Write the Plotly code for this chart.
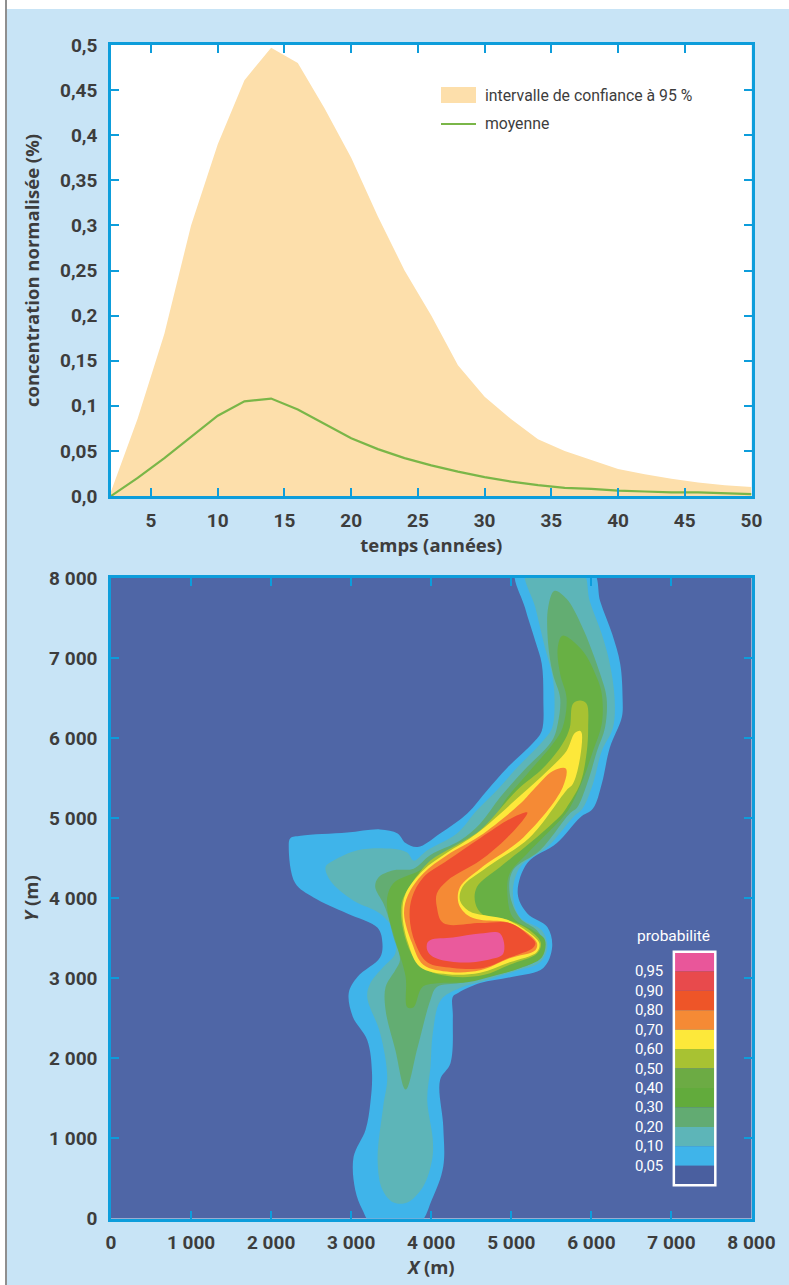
import plotly.graph_objects as go

# ---------- top chart data ----------
years = [2,4,6,8,10,12,14,16,18,20,22,24,26,28,30,32,34,36,38,40,42,44,46,48,50]
ci_upper = [.005,.086,.18,.30,.39,.461,.497,.48,.43,.375,.31,.25,.2,.145,.11,.085,.063,.05,.04,.03,.024,.019,.015,.012,.01]
mean_conc = [0,.02,.042,.066,.089,.105,.108,.096,.08,.064,.052,.042,.034,.027,.021,.016,.012,.009,.008,.006,.005,.004,.004,.003,.002]
top_xticks = [5,10,15,20,25,30,35,40,45,50]
top_yticks = [0,.05,.1,.15,.2,.25,.3,.35,.4,.45,.5]
top_ylabels = ["0,0","0,05","0,1","0,15","0,2","0,25","0,3","0,35","0,4","0,45","0,5"]

# ---------- probability map: outline of each level ----------
p05 = [(5060,8090),(5170,7630),(5300,7210),(5380,6930),(5400,6500),(5380,6090),(5270,5940),(4950,5630),(4700,5350),(4450,5060),(4110,4810),(3830,4640),(3680,4690),(3580,4810),(3360,4860),(2950,4820),(2370,4780),(2240,4750),(2220,4640),(2300,4190),(2530,4010),(2950,3810),(3330,3630),(3390,3440),(3360,3260),(3080,3020),(2970,2820),(3020,2520),(3200,2230),(3260,1820),(3240,1450),(3180,1110),(3030,770),(3050,360),(3140,110),(3260,-70),(3840,-70),(4010,240),(4150,650),(4150,1150),(4110,1730),(4240,1940),(4270,2520),(4270,2770),(4340,2820),(4610,2940),(5020,3020),(5400,3130),(5510,3390),(5450,3640),(5200,3810),(5080,4060),(5200,4440),(5570,4690),(5860,5010),(6020,5120),(6130,5430),(6230,5880),(6380,6260),(6390,6500),(6360,6930),(6260,7300),(6110,7710),(6010,8090)]
p10 = [(5180,8090),(5300,7630),(5420,7130),(5510,6800),(5540,6470),(5510,6130),(5400,5970),(5070,5630),(4820,5350),(4570,5100),(4320,4810),(3950,4600),(3780,4470),(3700,4570),(3490,4620),(3080,4600),(2780,4470),(2680,4390),(2740,4220),(3030,3970),(3360,3810),(3530,3600),(3550,3310),(3400,3140),(3240,2940),(3200,2770),(3360,2320),(3450,1770),(3400,1400),(3330,730),(3390,360),(3530,200),(3700,200),(3900,400),(4010,730),(4020,980),(3950,1480),(3990,1890),(4020,2320),(4120,2730),(4360,2880),(4700,2980),(5020,3080),(5360,3200),(5450,3390),(5380,3600),(5110,3760),(5020,4060),(5110,4390),(5450,4640),(5770,5010),(5890,5120),(6020,5430),(6130,5840),(6270,6130),(6290,6500),(6230,6930),(6130,7300),(5980,7710),(5880,8090)]
p20 = [(5540,7840),(5460,7630),(5460,7180),(5520,6800),(5610,6500),(5580,6180),(5510,5970),(5150,5590),(4860,5260),(4610,4930),(4360,4720),(3990,4540),(3780,4370),(3530,4350),(3340,4260),(3300,4140),(3400,3940),(3450,3810),(3530,3510),(3610,3230),(3550,3100),(3430,2890),(3430,2600),(3550,2110),(3680,1610),(3830,2140),(3990,2730),(4070,2890),(4360,2940),(4700,3020),(5020,3100),(5320,3230),(5400,3440),(5320,3600),(5110,3750),(4980,4060),(5020,4350),(5360,4600),(5730,5060),(5820,5130),(5960,5470),(6070,5840),(6170,6130),(6190,6500),(6110,6800),(5890,7380),(5690,7740)]
p30 = [(5640,7280),(5580,7130),(5610,6800),(5690,6500),(5640,6130),(5520,5930),(5230,5590),(4950,5260),(4730,4930),(4400,4690),(4070,4500),(3860,4350),(3530,4190),(3450,4010),(3460,3810),(3550,3480),(3680,3020),(3700,2640),(3780,2640),(3890,2890),(4110,2940),(4450,2950),(4820,3040),(5110,3130),(5380,3260),(5420,3480),(5270,3600),(5020,3760),(4950,4060),(4980,4310),(5200,4560),(5640,5010),(5730,5130),(5890,5470),(6020,5840),(6130,6180),(6130,6550),(6070,6750),(5890,7090)]
p50 = [(5860,6470),(5770,6430),(5730,6130),(5640,5930),(5400,5630),(5070,5350),(4610,4850),(4270,4640),(3990,4470),(3760,4190),(3630,3940),(3650,3600),(3780,3260),(3950,3100),(4270,3020),(4650,3040),(4980,3170),(5320,3310),(5370,3440),(5230,3600),(4950,3730),(4650,3790),(4550,3940),(4570,4140),(4860,4390),(5270,4720),(5640,5060),(5690,5130),(5860,5430),(5940,5810),(5960,6130),(5940,6430)]
p60 = [(5860,6090),(5790,6060),(5690,5840),(5450,5590),(5110,5280),(4570,4810),(4200,4570),(3900,4350),(3680,4060),(3640,3810),(3710,3440),(3860,3140),(4200,3050),(4610,3070),(4980,3200),(5320,3330),(5350,3440),(5210,3580),(4950,3730),(4700,3780),(4490,3830),(4360,3970),(4390,4140),(4700,4390),(5230,4760),(5690,5350),(5770,5430),(5860,5760),(5880,6060)]
p70 = [(5680,5620),(5520,5590),(5270,5350),(5110,5180),(4610,4780),(4200,4540),(3900,4310),(3710,4040),(3660,3810),(3760,3440),(3900,3170),(4240,3080),(4610,3100),(4980,3250),(5300,3350),(5320,3440),(5210,3560),(4950,3700),(4610,3730),(4450,3790),(4340,3940),(4360,4140),(4610,4370),(5150,4760),(5640,5380)]
p80 = [(5200,5070),(5020,5010),(4610,4750),(4200,4470),(3900,4260),(3760,4010),(3730,3760),(3800,3440),(3950,3200),(4270,3130),(4650,3130),(4980,3260),(5270,3380),(5300,3440),(5210,3540),(4980,3690),(4610,3690),(4150,3690),(4070,3890),(4070,4060),(4200,4220),(4610,4470),(4950,4760),(5170,5010)]
p95 = [(3950,3440),(3990,3480),(4270,3510),(4610,3560),(4860,3560),(4900,3310),(4700,3230),(4320,3200),(4020,3270),(3950,3350)]

map_levels = [p05,p10,p20,p30,p50,p60,p70,p80,p95]
level_names = ["0,05","0,10","0,20","0,30","0,50","0,60","0,70","0,80","0,95"]
level_colors = ["#3fb4ea","#5db5b8","#63ad72","#68b044","#a8c232","#fde83a","#f58a35","#ee4f30","#ea5a9c"]

map_ticks = [0,1000,2000,3000,4000,5000,6000,7000,8000]
map_ticklabels = ["0","1 000","2 000","3 000","4 000","5 000","6 000","7 000","8 000"]

key_labels = ["0,95","0,90","0,80","0,70","0,60","0,50","0,40","0,30","0,20","0,10","0,05"]
key_colors = ["#e9569a","#e84a4c","#ee5528","#f58a35","#fde83a","#a8c232","#6cab44","#62ab3c","#62ab72","#5db5b8","#3fb4ea","#4a5f9f"]

BG = "#c8e4f6"
AXIS = "#0d9ddb"
TXT = "#3d3d3d"
FONT = "Roboto"
TITLE_FONT = "Open Sans"
W, H = 789, 1285

fig = go.Figure()
fig.add_trace(go.Scatter(x=years, y=ci_upper, mode="lines", fill="tozeroy", fillcolor="#fddfab",
                         line=dict(width=0, color="#fddfab"), name="intervalle de confiance à 95 %",
                         xaxis="x", yaxis="y"))
fig.add_trace(go.Scatter(x=years, y=mean_conc, mode="lines", line=dict(color="#7ab648", width=2.2),
                         name="moyenne", xaxis="x", yaxis="y"))
for pts, nm, col in zip(map_levels, level_names, level_colors):
    closed = pts + pts[:1]
    fig.add_trace(go.Scatter(x=[p[0] for p in closed], y=[p[1] for p in closed], mode="lines",
                             line=dict(width=0, color=col, shape="spline", smoothing=1.0),
                             fill="toself", fillcolor=col, name=nm, xaxis="x2", yaxis="y2",
                             hoverinfo="skip"))

axis_common = dict(showline=True, linecolor=AXIS, linewidth=2.5, mirror="allticks", ticks="inside",
                   tickcolor=AXIS, tickwidth=2, ticklen=8, showgrid=False, zeroline=False,
                   automargin=False, ticklabelstandoff=5,
                   tickfont=dict(family=FONT, size=19, color=TXT, weight=700))
title_font = dict(family=TITLE_FONT, size=18.5, color=TXT, weight=700)

fig.update_layout(
    width=W, height=H, autosize=False, showlegend=False,
    margin=dict(l=0, r=0, t=0, b=0, pad=0),
    paper_bgcolor=BG, plot_bgcolor="white",
    xaxis=dict(axis_common, domain=[111/W, 751.5/W], range=[2, 50], tickvals=top_xticks,
               ticktext=[str(v) for v in top_xticks], anchor="y",
               title=dict(text="temps (années)", font=title_font, standoff=5)),
    yaxis=dict(axis_common, domain=[1-496/H, 1-45/H], range=[0, .5], tickvals=top_yticks,
               ticktext=top_ylabels, anchor="x", ticklabelstandoff=7,
               title=dict(text="concentration normalisée (%)", font=title_font, standoff=16)),
    xaxis2=dict(axis_common, domain=[111/W, 751.5/W], range=[0, 8000], tickvals=map_ticks,
                ticktext=map_ticklabels, anchor="y2",
                title=dict(text="<i>X</i> (m)", font=title_font, standoff=9)),
    yaxis2=dict(axis_common, domain=[1-1218.5/H, 1-578/H], range=[0, 8000], tickvals=map_ticks,
                ticktext=map_ticklabels, anchor="x2", ticklabelstandoff=7,
                title=dict(text="<i>Y</i> (m)", font=title_font, standoff=6)),
)

shapes = [
    dict(type="rect", xref="paper", yref="paper", x0=0, x1=1, y0=1-9/H, y1=1, fillcolor="white", line_width=0, layer="below"),
    dict(type="rect", xref="paper", yref="paper", x0=0, x1=5/W, y0=0, y1=1, fillcolor="white", line_width=0, layer="below"),
    dict(type="rect", xref="paper", yref="paper", x0=5/W, x1=7/W, y0=0, y1=1, fillcolor="#8f8f8f", line_width=0, layer="below"),
    dict(type="rect", xref="x2 domain", yref="y2 domain", x0=0, x1=1, y0=0, y1=1, fillcolor="#4f66a6", line_width=0, layer="below"),
    # top chart key
    dict(type="rect", xref="paper", yref="paper", x0=441/W, x1=476/W, y0=1-103/H, y1=1-87/H, fillcolor="#fddfab", line_width=0),
    dict(type="line", xref="paper", yref="paper", x0=441/W, x1=476/W, y0=1-124/H, y1=1-124/H, line=dict(color="#7ab648", width=2.2)),
]
# probability key: one band per colour
band = 243
key_top = 3331
for i, col in enumerate(key_colors):
    shapes.append(dict(type="rect", xref="x2", yref="y2", x0=7030, x1=7548,
                       y0=key_top-(i+1)*band, y1=key_top-i*band, fillcolor=col, line_width=0))
shapes.append(dict(type="rect", xref="x2", yref="y2", x0=7030, x1=7548, y0=key_top-12*band, y1=key_top,
                   fillcolor="rgba(0,0,0,0)", line=dict(color="white", width=2.5)))
fig.update_layout(shapes=shapes)

ann = [
    dict(text="intervalle de confiance à 95 %", xref="paper", yref="paper", x=483/W, y=1-96/H,
         xanchor="left", yanchor="middle", showarrow=False, font=dict(family=FONT, size=15.8, color=TXT)),
    dict(text="moyenne", xref="paper", yref="paper", x=483/W, y=1-124/H,
         xanchor="left", yanchor="middle", showarrow=False, font=dict(family=FONT, size=15.8, color=TXT)),
    dict(text="probabilité", xref="paper", yref="paper", x=673/W, y=1-936/H,
         xanchor="center", yanchor="middle", showarrow=False, font=dict(family=FONT, size=15.5, color="white")),
]
for i, lab in enumerate(key_labels):
    ann.append(dict(text=lab, xref="x2", yref="y2", x=6920, y=key_top-(i+1)*band,
                    xanchor="right", yanchor="middle", showarrow=False,
                    font=dict(family=FONT, size=15, color="white")))
fig.update_layout(annotations=ann)

fig.write_html("out.html", config=dict(displayModeBar=False),
               post_script="document.body.style.margin='0';document.body.style.overflow='hidden';")
